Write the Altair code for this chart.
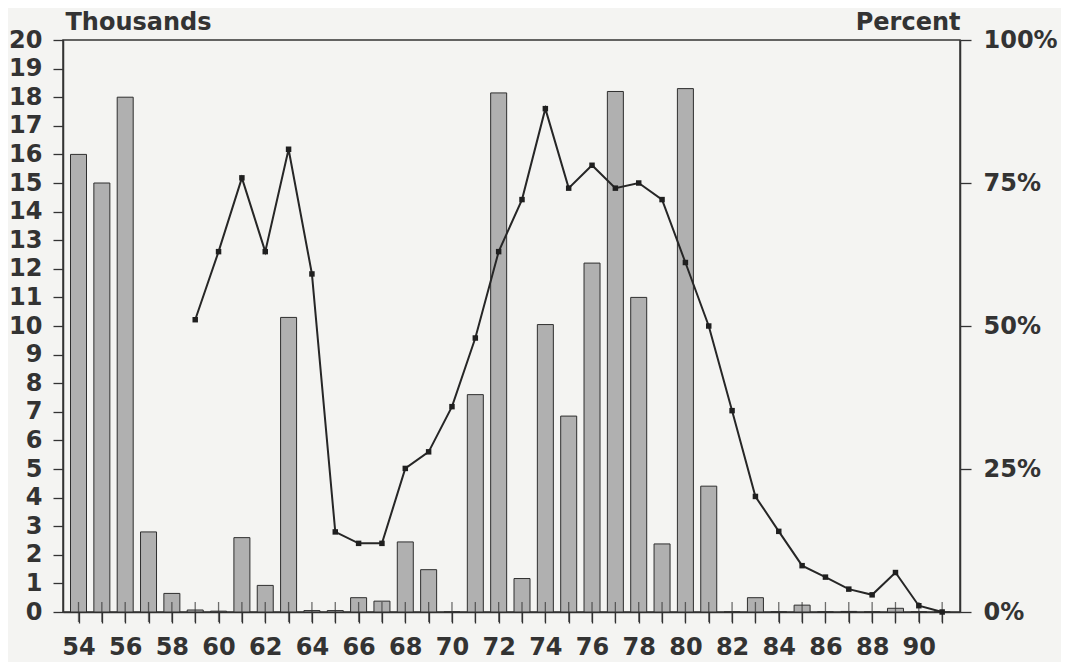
import altair as alt
import pandas as pd

# ---- data ----
years = list(range(54, 92))
thousands = [16.0, 15.0, 18.0, 2.8, 0.65, 0.07, 0.03, 2.6, 0.93, 10.3,
             0.05, 0.05, 0.5, 0.38, 2.45, 1.48, 0.0, 7.6, 18.15, 1.17,
             10.05, 6.85, 12.2, 18.2, 11.0, 2.38, 18.3, 4.4, 0.0, 0.5,
             0.0, 0.24, 0.0, 0.02, 0.0, 0.13, 0.0, 0.0]
line_years = list(range(59, 92))
percent = [51.1, 63.0, 75.9, 63.0, 80.9, 59.1, 14.0, 12.0, 12.0, 25.1,
           28.0, 35.9, 47.9, 63.0, 72.1, 88.0, 74.1, 78.1, 74.1, 75.0,
           72.1, 61.1, 50.0, 35.2, 20.2, 14.1, 8.1, 6.1, 4.0, 3.0,
           6.9, 1.1, 0.0]
left_ticks = list(range(0, 21))
right_ticks = [0, 25, 50, 75, 100]

bars_df = pd.DataFrame({"year": years, "thousands": thousands})
line_df = pd.DataFrame({"year": line_years, "percent": percent})

FONT = "DejaVu Sans"
INK = "#333333"
FS = 24

x_scale = alt.Scale(domain=[53.55, 91.55], nice=False, zero=False)

x_axis = alt.Axis(
    values=years, title=None, format="d",
    labelExpr="datum.value % 2 == 0 ? datum.label : ''",
    tickSize=11, tickColor=INK, tickWidth=1.3,
    labelPadding=12, labelFont=FONT, labelFontSize=FS, labelFontWeight="bold",
    labelColor=INK, domainColor=INK, domainWidth=1.5, grid=False,
    labelFlush=False, labelOverlap=False,
)

left_axis = alt.Axis(
    values=left_ticks, title="Thousands", titleAngle=0, titleAlign="left",
    titleBaseline="alphabetic", titleX=2, titleY=-11,
    titleFont=FONT, titleFontSize=FS, titleFontWeight="bold", titleColor=INK,
    tickSize=10, tickColor=INK, tickWidth=1.3,
    labelPadding=11, labelFont=FONT, labelFontSize=FS, labelFontWeight="bold",
    labelColor=INK, domainColor=INK, domainWidth=1.5, grid=False,
    labelFlush=False, labelOverlap=False,
)

right_axis = alt.Axis(
    orient="right", values=right_ticks, title="Percent", titleAngle=0,
    titleAlign="right", titleBaseline="alphabetic", titleX=0, titleY=-11,
    titleFont=FONT, titleFontSize=FS, titleFontWeight="bold", titleColor=INK,
    labelExpr="datum.value + '%'",
    tickSize=11, tickColor=INK, tickWidth=1.3,
    labelPadding=12, labelFont=FONT, labelFontSize=FS, labelFontWeight="bold",
    labelColor=INK, domainColor=INK, domainWidth=1.5, grid=False,
    labelFlush=False, labelOverlap=False,
)

left_scale = alt.Scale(domain=[0, 20], nice=False, zero=True)
right_scale = alt.Scale(domain=[0, 100], nice=False, zero=True)

bars = alt.Chart(bars_df).mark_bar(
    width=16, fill="#b0b0b0", stroke="#2e2e2e", strokeWidth=1
).encode(
    x=alt.X("year:Q", scale=x_scale, axis=x_axis),
    y=alt.Y("thousands:Q", scale=left_scale, axis=left_axis),
)

xticks = alt.Chart(bars_df).mark_tick(
    orient="vertical", size=20, thickness=1.3, color=INK
).encode(
    x=alt.X("year:Q", scale=x_scale, axis=x_axis),
    y=alt.Y(datum=0, scale=left_scale, axis=left_axis),
)

left_layer = alt.layer(bars, xticks)

line = alt.Chart(line_df).mark_line(
    color="#262626", strokeWidth=2
).encode(
    x=alt.X("year:Q", scale=x_scale, axis=x_axis),
    y=alt.Y("percent:Q", scale=right_scale, axis=right_axis),
)

points = alt.Chart(line_df).mark_point(
    shape="square", filled=True, size=30, color="#1f1f1f", opacity=1
).encode(
    x=alt.X("year:Q", scale=x_scale, axis=x_axis),
    y=alt.Y("percent:Q", scale=right_scale, axis=right_axis),
)

right_layer = alt.layer(line, points)

chart = alt.layer(left_layer, right_layer).resolve_scale(
    y="independent"
).properties(
    width=897, height=572,
    autosize=alt.AutoSizeParams(type="none"),
    padding={"left": 55, "top": 32, "right": 101, "bottom": 50},
    background="#f4f4f2",
).configure_view(
    stroke=INK, strokeWidth=1.5
)

chart.save("out.html", embed_options={"renderer": "svg", "actions": False})
